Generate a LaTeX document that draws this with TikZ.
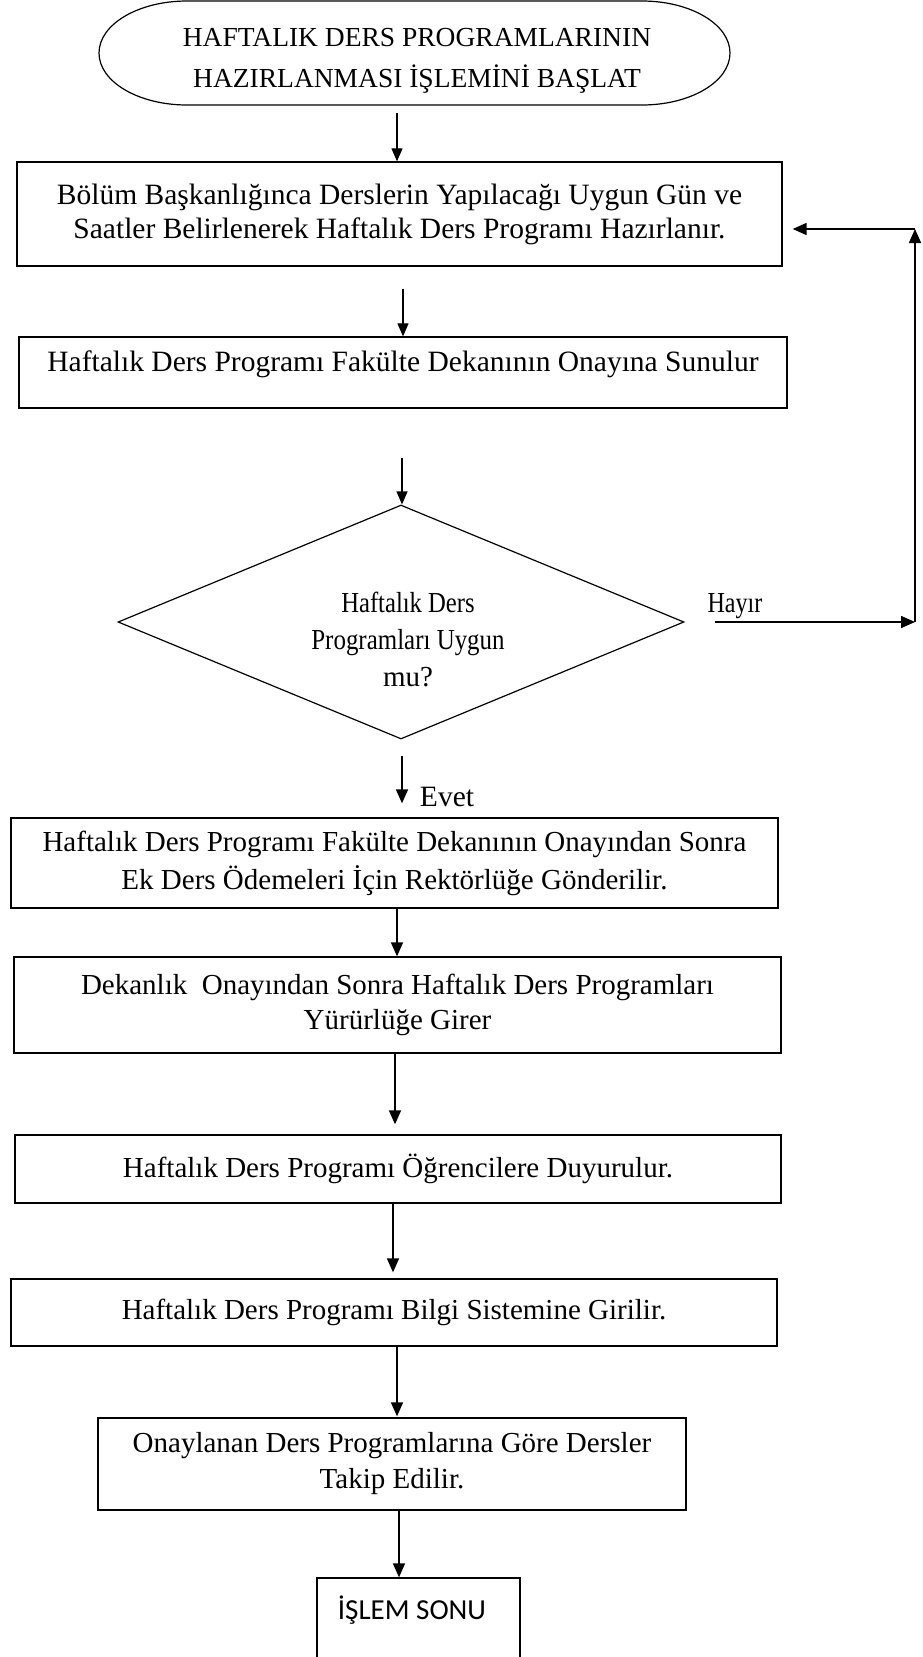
\documentclass[tikz,border=0pt]{standalone}
\usepackage{fontspec}
\usepackage{graphicx}
\setmainfont{Liberation Serif}
\newfontfamily\endfont{Carlito}
\usetikzlibrary{arrows.meta,shapes.geometric}

\begin{document}
\begin{tikzpicture}[x=1pt,y=-1pt,
  box/.style={draw, line width=1.3pt, inner sep=0pt, align=center,
              font=\fontsize{29}{37}\selectfont},
  shapeline/.style={line width=1.2pt},
  arr/.style={line width=1.6pt, -{Triangle[length=14pt,width=12pt]}},
  thinarr/.style={line width=1.2pt, -{Triangle[length=13pt,width=11pt]}},
  lbl/.style={inner sep=0pt, font=\fontsize{29}{34}\selectfont}
]
% page
\fill[white] (0,0) rectangle (923,1657);
\useasboundingbox (0,0) rectangle (923,1657);

% start terminator: flat top and bottom with elliptic ends
\node[minimum width=631pt, minimum height=104pt, inner sep=0pt] (start) at (414.5,53) {};
\draw[shapeline] (187,1) -- (642,1)
  arc[start angle=-90, end angle=90, x radius=88, y radius=52]
  -- (187,105)
  arc[start angle=90, end angle=270, x radius=88, y radius=52] -- cycle;
\node[align=center, inner sep=0pt, font=\fontsize{27.5}{41}\selectfont] (starttxt) at (417,61)
  {HAFTALIK DERS PROGRAMLARININ\\HAZIRLANMASI İŞLEMİNİ BAŞLAT};

% process boxes
\node[box, minimum width=765pt, minimum height=104pt, font=\fontsize{29.5}{34}\selectfont]
  (b1) at (399.5,214)
  {Bölüm Başkanlığınca Derslerin Yapılacağı Uygun Gün ve\\Saatler Belirlenerek Haftalık Ders Programı Hazırlanır.};
\node[box, minimum width=768pt, minimum height=71pt, font=\fontsize{29.5}{34}\selectfont]
  (b2) at (403,372.5)
  {\raisebox{8pt}[\height][\depth]{Haftalık Ders Programı Fakülte Dekanının Onayına Sunulur}};

% decision
\node[draw, shapeline, diamond, minimum width=566pt, minimum height=234pt, inner sep=0pt]
  (dia) at (401,622) {};
\node[align=center, inner sep=0pt, font=\fontsize{29}{37}\selectfont] (diatxt) at (408,639)
  {\scalebox{0.85}[1]{Haftalık Ders}\\\scalebox{0.86}[1]{Programları Uygun}\\mu?};

\node[box, minimum width=767pt, minimum height=90pt, font=\fontsize{29}{38}\selectfont]
  (b3) at (394.5,863)
  {Haftalık Ders Programı Fakülte Dekanının Onayından Sonra\\Ek Ders Ödemeleri İçin Rektörlüğe Gönderilir.};
\node[box, minimum width=767pt, minimum height=96pt, font=\fontsize{29}{35}\selectfont]
  (b4) at (397.5,1005)
  {Dekanlık\ \ Onayından Sonra Haftalık Ders Programları\\Yürürlüğe Girer};
\node[box, minimum width=766pt, minimum height=68pt]
  (b5) at (398,1169) {Haftalık Ders Programı Öğrencilere Duyurulur.};
\node[box, minimum width=766pt, minimum height=67pt]
  (b6) at (394,1312.5) {Haftalık Ders Programı Bilgi Sistemine Girilir.};
\node[box, minimum width=588pt, minimum height=92pt, font=\fontsize{29}{36}\selectfont]
  (b7) at (392,1464)
  {Onaylanan Ders Programlarına Göre Dersler\\Takip Edilir.};

% end box (runs past the lower edge)
\node[box, minimum width=203pt, minimum height=87pt, font=\endfont\fontsize{29}{34}\selectfont]
  (b8) at (418.5,1621.5)
  {\hspace*{-13pt}\raisebox{11.5pt}[\height][\depth]{İŞLEM SONU}};

% labels
\node[lbl] (hayir) at (735,606) {\scalebox{0.83}[1]{Hayır}};
\node[lbl, font=\fontsize{29.5}{34}\selectfont] (evet) at (447,797) {Evet};

% main flow
\draw[thinarr] ([shift={(-17.5,8)}]start.south) -- ([shift={(-2.5,0)}]b1.north);
\draw[thinarr] ([shift={(3.5,22)}]b1.south) -- (b2.north);
\draw[thinarr] ([shift={(-1,49)}]b2.south) -- ([shift={(1,0)}]dia.north);
\draw[arr] ([shift={(1,16)}]dia.south) -- ([shift={(7.5,-14)}]b3.north);
\draw[arr] ([shift={(2.5,0)}]b3.south) -- ([shift={(-0.5,0)}]b4.north);
\draw[arr] ([shift={(-2.5,0)}]b4.south) -- ([shift={(-3,-10)}]b5.north);
\draw[arr] ([shift={(-5,0)}]b5.south) -- ([shift={(-1,-6)}]b6.north);
\draw[arr] ([shift={(3,0)}]b6.south) -- ([shift={(5,-1)}]b7.north);
\draw[arr] ([shift={(7,-2)}]b7.south) -- ([shift={(-19.5,0)}]b8.north);

% "no" branch back to the first step
\coordinate (c1) at (915,622);
\coordinate (c2) at (915,229);
\draw[arr] ([xshift=30pt]dia.east) -- (c1);
\draw[arr] (c1) -- (c2);
\draw[arr] (c2) -- ([shift={(10,0)}]b1.east |- c2);
\end{tikzpicture}
\end{document}
